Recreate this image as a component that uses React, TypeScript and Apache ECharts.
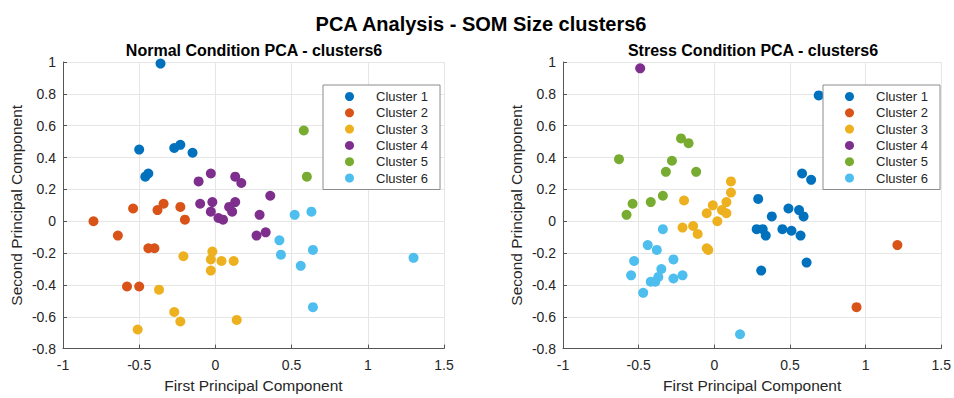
import React, { useEffect, useRef } from "react";
import * as echarts from "echarts";

const clusterNames = ["Cluster 1", "Cluster 2", "Cluster 3", "Cluster 4", "Cluster 5", "Cluster 6"];
const clusterColors = ["#0072BD", "#D95319", "#EDB120", "#7E2F8E", "#77AC30", "#4DBEEE"];
const xTicks = [-1, -0.5, 0, 0.5, 1, 1.5];
const yTicks = [-0.8, -0.6, -0.4, -0.2, 0, 0.2, 0.4, 0.6, 0.8, 1];

// Normal condition (x = PC1, y = PC2)
const normalCluster1 = [[-0.36, 0.99], [-0.5, 0.45], [-0.27, 0.46], [-0.23, 0.48], [-0.15, 0.43], [-0.46, 0.28], [-0.44, 0.3]];
const normalCluster2 = [[-0.8, 0.0], [-0.54, 0.08], [-0.38, 0.07], [-0.34, 0.11], [-0.23, 0.09], [-0.2, 0.01], [-0.64, -0.09], [-0.44, -0.17], [-0.4, -0.17], [-0.58, -0.41], [-0.5, -0.41]];
const normalCluster3 = [[-0.21, -0.22], [-0.02, -0.19], [-0.03, -0.24], [0.04, -0.25], [0.12, -0.25], [-0.03, -0.31], [-0.37, -0.43], [-0.27, -0.57], [-0.23, -0.63], [0.14, -0.62], [-0.51, -0.68]];
const normalCluster4 = [[-0.11, 0.25], [-0.03, 0.3], [0.13, 0.28], [0.17, 0.24], [-0.1, 0.11], [-0.02, 0.12], [-0.03, 0.06], [0.09, 0.09], [0.13, 0.12], [0.11, 0.06], [0.02, 0.02], [0.05, 0.01], [0.29, 0.04], [0.36, 0.16], [0.27, -0.09], [0.33, -0.07]];
const normalCluster5 = [[0.58, 0.57], [0.6, 0.28]];
const normalCluster6 = [[0.52, 0.04], [0.63, 0.06], [0.42, -0.12], [0.43, -0.21], [0.64, -0.18], [0.56, -0.28], [1.3, -0.23], [0.64, -0.54]];

// Stress condition
const stressCluster1 = [[0.69, 0.79], [0.58, 0.3], [0.64, 0.26], [0.29, 0.14], [0.38, 0.03], [0.49, 0.08], [0.56, 0.07], [0.59, 0.03], [0.28, -0.05], [0.32, -0.05], [0.34, -0.09], [0.45, -0.05], [0.51, -0.06], [0.57, -0.09], [0.61, -0.26], [0.31, -0.31]];
const stressCluster2 = [[1.21, -0.15], [0.94, -0.54]];
const stressCluster3 = [[-0.2, 0.13], [0.11, 0.25], [0.11, 0.18], [-0.01, 0.1], [0.08, 0.12], [-0.05, 0.05], [0.05, 0.07], [0.08, 0.05], [0.02, 0.0], [-0.21, -0.04], [-0.14, -0.03], [-0.11, -0.08], [-0.05, -0.17], [-0.04, -0.18]];
const stressCluster4 = [[-0.49, 0.96]];
const stressCluster5 = [[-0.22, 0.52], [-0.17, 0.49], [-0.63, 0.39], [-0.28, 0.38], [-0.32, 0.31], [-0.12, 0.31], [-0.34, 0.16], [-0.54, 0.11], [-0.42, 0.12], [-0.58, 0.04]];
const stressCluster6 = [[-0.34, -0.05], [-0.44, -0.15], [-0.38, -0.18], [-0.27, -0.24], [-0.53, -0.25], [-0.35, -0.3], [-0.55, -0.34], [-0.37, -0.35], [-0.42, -0.38], [-0.39, -0.38], [-0.27, -0.36], [-0.21, -0.34], [-0.47, -0.45], [0.17, -0.71]];

const normalData = [normalCluster1, normalCluster2, normalCluster3, normalCluster4, normalCluster5, normalCluster6];
const stressData = [stressCluster1, stressCluster2, stressCluster3, stressCluster4, stressCluster5, stressCluster6];

const FONT = "'Liberation Sans', Arial, Helvetica, sans-serif";
const TEXT = "#262626";

function makeAxes(gridIndex: number) {
  const xAxis = {
    gridIndex,
    type: "value",
    min: -1,
    max: 1.5,
    interval: 0.5,
    name: "First Principal Component",
    nameLocation: "middle",
    nameGap: 24,
    nameTextStyle: { fontFamily: FONT, fontSize: 15.5, color: TEXT, verticalAlign: "top" },
    axisLine: { show: true, onZero: false, lineStyle: { color: "#555555", width: 1 } },
    axisTick: { show: true, inside: true, length: 4, lineStyle: { color: "#555555" } },
    axisLabel: {
      fontFamily: FONT,
      fontSize: 14,
      color: TEXT,
      margin: 9.5,
      formatter: (v: number) => String(xTicks.find((t) => Math.abs(t - v) < 1e-9) ?? v),
    },
    splitLine: { show: true, lineStyle: { color: "#e6e6e6", width: 1 } },
  };
  const yAxis = {
    gridIndex,
    type: "value",
    min: -0.8,
    max: 1,
    interval: 0.2,
    name: "Second Principal Component",
    nameLocation: "middle",
    nameGap: 38.5,
    nameTextStyle: { fontFamily: FONT, fontSize: 15.5, color: TEXT },
    axisLine: { show: true, onZero: false, lineStyle: { color: "#555555", width: 1 } },
    axisTick: { show: true, inside: true, length: 4, lineStyle: { color: "#555555" } },
    axisLabel: {
      fontFamily: FONT,
      fontSize: 14,
      color: TEXT,
      margin: 7,
      formatter: (v: number) => {
        const t = yTicks.find((k) => Math.abs(k - v) < 1e-9);
        return t === undefined ? "" : String(t);
      },
    },
    splitLine: { show: true, lineStyle: { color: "#e6e6e6", width: 1 } },
  };
  return { xAxis, yAxis };
}

function makeLegend(left: number) {
  return {
    left,
    top: 85,
    orient: "vertical",
    data: clusterNames,
    icon: "circle",
    itemWidth: 9,
    itemHeight: 9,
    itemGap: 0.3,
    padding: [3.5, 12, 3.5, 22],
    borderColor: "#8c8c8c",
    borderWidth: 1,
    backgroundColor: "#ffffff",
    selectedMode: false,
    textStyle: { fontFamily: FONT, fontSize: 13, color: TEXT, lineHeight: 16, padding: [0, 0, 0, 17] },
  };
}

export default function App() {
  const ref = useRef<HTMLDivElement>(null);
  useEffect(() => {
    if (!ref.current) return;
    const chart = echarts.init(ref.current, undefined, { renderer: "svg" });
    const a0 = makeAxes(0);
    const a1 = makeAxes(1);
    const series: any[] = [];
    normalData.forEach((d, i) => {
      series.push({
        name: clusterNames[i],
        type: "scatter",
        xAxisIndex: 0,
        yAxisIndex: 0,
        data: d,
        symbol: "circle",
        symbolSize: 10,
        itemStyle: { color: clusterColors[i], opacity: 1 },
        emphasis: { disabled: true },
      });
    });
    stressData.forEach((d, i) => {
      series.push({
        name: clusterNames[i],
        type: "scatter",
        xAxisIndex: 1,
        yAxisIndex: 1,
        data: d,
        symbol: "circle",
        symbolSize: 10,
        itemStyle: { color: clusterColors[i], opacity: 1 },
        emphasis: { disabled: true },
      });
    });
    chart.setOption({
      animation: false,
      backgroundColor: "#ffffff",
      grid: [
        { left: 63, top: 62, width: 381, height: 297 },
        { left: 563, top: 62, width: 380, height: 297 },
      ],
      xAxis: [a0.xAxis, a1.xAxis],
      yAxis: [a0.yAxis, a1.yAxis],
      legend: [makeLegend(323), makeLegend(823)],
      graphic: [
        {
          type: "text",
          x: 481,
          y: 23.5,
          style: {
            text: "PCA Analysis - SOM Size clusters6",
            fontFamily: FONT,
            fontSize: 20,
            fontWeight: "bold",
            fill: "#000000",
            textAlign: "center",
            textVerticalAlign: "middle",
          },
        },
        {
          type: "text",
          x: 254,
          y: 50.5,
          style: {
            text: "Normal Condition PCA - clusters6",
            fontFamily: FONT,
            fontSize: 16,
            fontWeight: "bold",
            fill: "#000000",
            textAlign: "center",
            textVerticalAlign: "middle",
          },
        },
        {
          type: "text",
          x: 753,
          y: 50.5,
          style: {
            text: "Stress Condition PCA - clusters6",
            fontFamily: FONT,
            fontSize: 16,
            fontWeight: "bold",
            fill: "#000000",
            textAlign: "center",
            textVerticalAlign: "middle",
          },
        },
      ],
      series,
    });
    return () => chart.dispose();
  }, []);
  return (
    <div
      ref={ref}
      style={{ position: "fixed", left: 0, top: 0, width: 954, height: 398, background: "#ffffff" }}
    />
  );
}
